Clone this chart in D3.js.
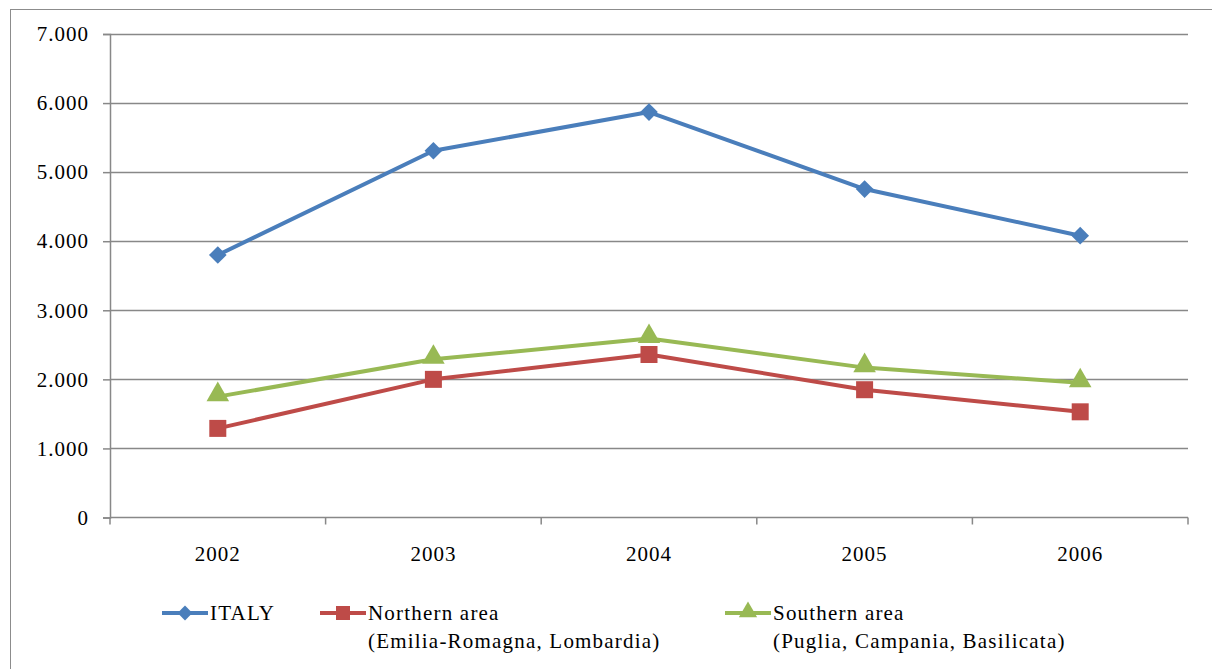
<!DOCTYPE html>
<html>
<head>
<meta charset="utf-8">
<script src="https://cdn.jsdelivr.net/npm/d3@7"></script>
<style>
  body { margin: 0; background: #fff; }
  svg { display: block; }
  svg text { font-family: "Liberation Serif", "DejaVu Serif", "Times New Roman", serif; fill: #000; }
</style>
</head>
<body>
<div id="chart"></div>
<script>
const width = 1212
const height = 669

// data
const years = ["2002", "2003", "2004", "2005", "2006"]
const italy = [3800, 5310, 5870, 4755, 4080]
const northern = [1290, 2000, 2360, 1850, 1530]
const southern = [1750, 2290, 2590, 2170, 1950]
const yTicks = [0, 1000, 2000, 3000, 4000, 5000, 6000, 7000]

const series = [
  { name: ["ITALY"], values: italy, color: "#4A7EBB", symbol: "diamond", lx: 162 },
  { name: ["Northern area", "(Emilia-Romagna, Lombardia)"], values: northern, color: "#BE4B48", symbol: "square", lx: 320 },
  { name: ["Southern area", "(Puglia, Campania, Basilicata)"], values: southern, color: "#98B954", symbol: "triangle", lx: 725 }
]

const plot = { left: 110, right: 1188, top: 34, bottom: 517.5 }
const fontSize = 21

const svg = d3.select("#chart")
  .append("svg")
  .attr("width", width)
  .attr("height", height)

// outer frame
svg.append("rect")
  .attr("x", 10.5).attr("y", 9.5)
  .attr("width", 1210).attr("height", 670)
  .attr("fill", "none")
  .attr("stroke", "#8c8c8c")

const x = d3.scaleBand()
  .domain(years)
  .range([plot.left, plot.right])

const y = d3.scaleLinear()
  .domain([0, 7000])
  .range([plot.bottom, plot.top])

// gridlines
svg.append("g")
  .selectAll("line")
  .data(yTicks.filter(d => d > 0))
  .join("line")
  .attr("x1", plot.left).attr("x2", plot.right)
  .attr("y1", d => Math.round(y(d)) + 0.5)
  .attr("y2", d => Math.round(y(d)) + 0.5)
  .attr("stroke", "#888")
  .attr("stroke-width", 1.5)

const fmt = d => d === 0 ? "0" : d3.format(",")(d).replace(",", ".")

// y axis
const yAxis = svg.append("g")
  .attr("transform", `translate(${plot.left},0)`)
  .call(d3.axisLeft(y).tickValues(yTicks).tickFormat(fmt).tickSize(7).tickPadding(14))
yAxis.attr("font-family", null).attr("font-size", null)
yAxis.select(".domain").attr("stroke", "#888").attr("stroke-width", 1.5)
yAxis.selectAll(".tick line").attr("stroke", "#888").attr("stroke-width", 1.5)
yAxis.selectAll("text")
  .attr("font-size", fontSize)
  .attr("letter-spacing", 1)

// x axis: ticks at category boundaries
const xAxisG = svg.append("g")
  .attr("transform", `translate(0,${plot.bottom})`)
xAxisG.append("line")
  .attr("x1", plot.left).attr("x2", plot.right)
  .attr("stroke", "#888").attr("stroke-width", 1.5)
xAxisG.selectAll(".bound")
  .data(years.map(d => x(d)).concat([plot.right]))
  .join("line")
  .attr("class", "bound")
  .attr("x1", d => d).attr("x2", d => d)
  .attr("y1", 0).attr("y2", 7)
  .attr("stroke", "#888").attr("stroke-width", 1.5)
xAxisG.selectAll("text")
  .data(years)
  .join("text")
  .attr("x", d => x(d) + x.bandwidth() / 2)
  .attr("y", 43)
  .attr("text-anchor", "middle")
  .attr("font-size", fontSize)
  .attr("letter-spacing", 1)
  .text(d => d)

function marker(sel, s, size) {
  if (s.symbol === "triangle") {
    sel.attr("d", d3.symbol(d3.symbolTriangle, size * size * 0.5)())
  } else {
    sel.attr("d", d3.symbol(d3.symbolSquare, size * size)())
  }
}

const line = d3.line()
  .x((d, i) => x(years[i]) + x.bandwidth() / 2)
  .y(d => y(d))

series.forEach(s => {
  svg.append("path")
    .datum(s.values)
    .attr("d", line)
    .attr("fill", "none")
    .attr("stroke", s.color)
    .attr("stroke-width", 4)
    .attr("stroke-linejoin", "round")

  svg.append("g")
    .selectAll("path")
    .data(s.values)
    .join("path")
    .call(marker, s, s.symbol === "diamond" ? 12.5 : s.symbol === "square" ? 17 : 21)
    .attr("transform", (d, i) => {
      const cx = x(years[i]) + x.bandwidth() / 2
      const cy = y(d) + (s.symbol === "triangle" ? -2 : 0)
      return `translate(${cx},${cy})` + (s.symbol === "diamond" ? " rotate(45)" : "")
    })
    .attr("fill", s.color)
})

// legend
const legendY = 613
series.forEach(s => {
  const g = svg.append("g").attr("transform", `translate(${s.lx},${legendY})`)
  g.append("line")
    .attr("x1", 0).attr("x2", 46)
    .attr("stroke", s.color).attr("stroke-width", 4)
  g.append("path")
    .call(marker, s, s.symbol === "diamond" ? 10.5 : s.symbol === "square" ? 14 : 17)
    .attr("transform", `translate(23,${s.symbol === "triangle" ? -1 : 0})` + (s.symbol === "diamond" ? " rotate(45)" : ""))
    .attr("fill", s.color)
  g.selectAll("text")
    .data(s.name)
    .join("text")
    .attr("x", 48)
    .attr("y", (d, i) => 7 + i * 28)
    .attr("font-size", fontSize)
    .attr("letter-spacing", 1.2)
    .text(d => d)
})
</script>
</body>
</html>
